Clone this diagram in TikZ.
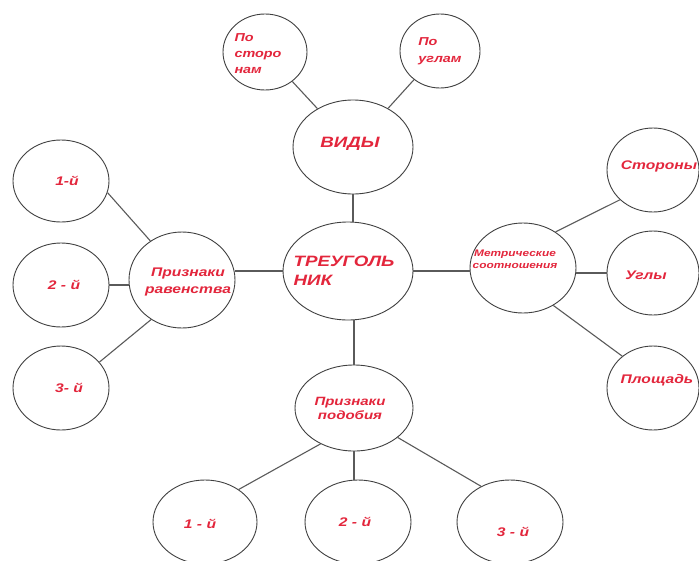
\documentclass[tikz,border=0pt]{standalone}
\usepackage{fontspec}
\setmainfont{Liberation Sans}
\usetikzlibrary{shapes.geometric}
\definecolor{tred}{HTML}{E3263C}
\definecolor{edgegray}{HTML}{5A5A5A}
\newcommand{\sx}[1]{\scalebox{1.25}[1]{#1}}
\tikzset{
  oval/.style={ellipse, draw=black!75, line width=0.9pt, inner sep=0pt},
  lbl/.style={text=tred, inner sep=0pt},
  conn/.style={draw=edgegray, line width=1.1pt}
}
\begin{document}
\begin{tikzpicture}[x=1pt,y=-1pt]
\fill[white] (0,0) rectangle (699,560);
\useasboundingbox (0,0) rectangle (699,560);

% ellipses
\node[oval, minimum width=130, minimum height=98] (tri) at (348,271) {};
\node[oval, minimum width=120, minimum height=94] (vidy) at (353,147) {};
\node[oval, minimum width=84, minimum height=76] (storon) at (265,52) {};
\node[oval, minimum width=80, minimum height=74] (uglam) at (440,51) {};
\node[oval, minimum width=106, minimum height=96] (ravn) at (182,280) {};
\node[oval, minimum width=96, minimum height=82] (l1) at (61,181) {};
\node[oval, minimum width=96, minimum height=84] (l2) at (61,285) {};
\node[oval, minimum width=96, minimum height=84] (l3) at (61,388) {};
\node[oval, minimum width=106, minimum height=90] (metr) at (523,268) {};
\node[oval, minimum width=92, minimum height=84] (storony) at (653,170) {};
\node[oval, minimum width=92, minimum height=84] (ugly) at (653,273) {};
\node[oval, minimum width=92, minimum height=84] (plosh) at (653,388) {};
\node[oval, minimum width=118, minimum height=86] (podob) at (354,408) {};
\node[oval, minimum width=104, minimum height=84] (b1) at (205,522) {};
\node[oval, minimum width=106, minimum height=84] (b2) at (358,522) {};
\node[oval, minimum width=106, minimum height=84] (b3) at (510,522) {};

% texts
\node[lbl, align=left, font=\fontsize{15}{18.5}\selectfont\bfseries\itshape] (tri-t) at (344,271) {\sx{ТРЕУГОЛЬ}\\\sx{НИК}};
\node[lbl, font=\fontsize{15}{18}\selectfont\bfseries\itshape] (vidy-t) at (350,144) {\sx{ВИДЫ}};
\node[lbl, align=left, font=\fontsize{11.5}{16}\selectfont\bfseries\itshape] (storon-t) at (258,54) {\sx{По}\\\sx{сторо}\\\sx{нам}};
\node[lbl, align=left, font=\fontsize{11.5}{17}\selectfont\bfseries\itshape] (uglam-t) at (440,51) {\sx{По}\\\sx{углам}};
\node[lbl, align=center, font=\fontsize{12.5}{17}\selectfont\bfseries\itshape] (ravn-t) at (188,282) {\sx{Признаки}\\\sx{равенства}};
\node[lbl, font=\fontsize{12.5}{15}\selectfont\bfseries\itshape] (l1-t) at (67,181) {\sx{1-й}};
\node[lbl, font=\fontsize{12.5}{15}\selectfont\bfseries\itshape] (l2-t) at (64,285) {\sx{2 - й}};
\node[lbl, font=\fontsize{12.5}{15}\selectfont\bfseries\itshape] (l3-t) at (69,388) {\sx{3- й}};
\node[lbl, align=center, font=\fontsize{9.5}{12}\selectfont\bfseries\itshape] (metr-t) at (515,259) {\sx{Метрические}\\\sx{соотношения}};
\node[lbl, font=\fontsize{12.5}{15}\selectfont\bfseries\itshape] (storony-t) at (659,166) {\sx{Стороны}};
\node[lbl, font=\fontsize{12.5}{15}\selectfont\bfseries\itshape] (ugly-t) at (646,275) {\sx{Углы}};
\node[lbl, font=\fontsize{12.5}{15}\selectfont\bfseries\itshape] (plosh-t) at (657,380) {\sx{Площадь}};
\node[lbl, align=center, font=\fontsize{12}{14}\selectfont\bfseries\itshape] (podob-t) at (350,408) {\sx{Признаки}\\\sx{подобия}};
\node[lbl, font=\fontsize{12.5}{15}\selectfont\bfseries\itshape] (b1-t) at (200,524) {\sx{1 - й}};
\node[lbl, font=\fontsize{12.5}{15}\selectfont\bfseries\itshape] (b2-t) at (355,522) {\sx{2 - й}};
\node[lbl, font=\fontsize{12.5}{15}\selectfont\bfseries\itshape] (b3-t) at (513,532) {\sx{3 - й}};

% connectors
\draw[conn] (vidy) -- (storon);
\draw[conn] (vidy) -- (uglam);
\draw[conn] (vidy.south) -- (vidy.south |- tri.north);
\draw[conn] (tri.west) -- (tri.west -| ravn.east);
\draw[conn] (tri.east) -- (tri.east -| metr.west);
\draw[conn] (podob.north) -- (podob.north |- tri.south);
\draw[conn] (l1.-14) -- (ravn.129);
\draw[conn] (l2.east) -- (l2.east -| ravn.west);
\draw[conn] (l3.34) -- (ravn.232);
\draw[conn] (metr.48) -- (storony.222);
\draw[conn] (ugly.west) -- (ugly.west -| metr.east);
\draw[conn] (metr.309) -- (plosh.134);
\draw[conn] (podob.227) -- (b1.44);
\draw[conn] (podob.south) -- (podob.south |- b2.north);
\draw[conn] (podob.326) -- (b3.129);
\end{tikzpicture}
\end{document}
